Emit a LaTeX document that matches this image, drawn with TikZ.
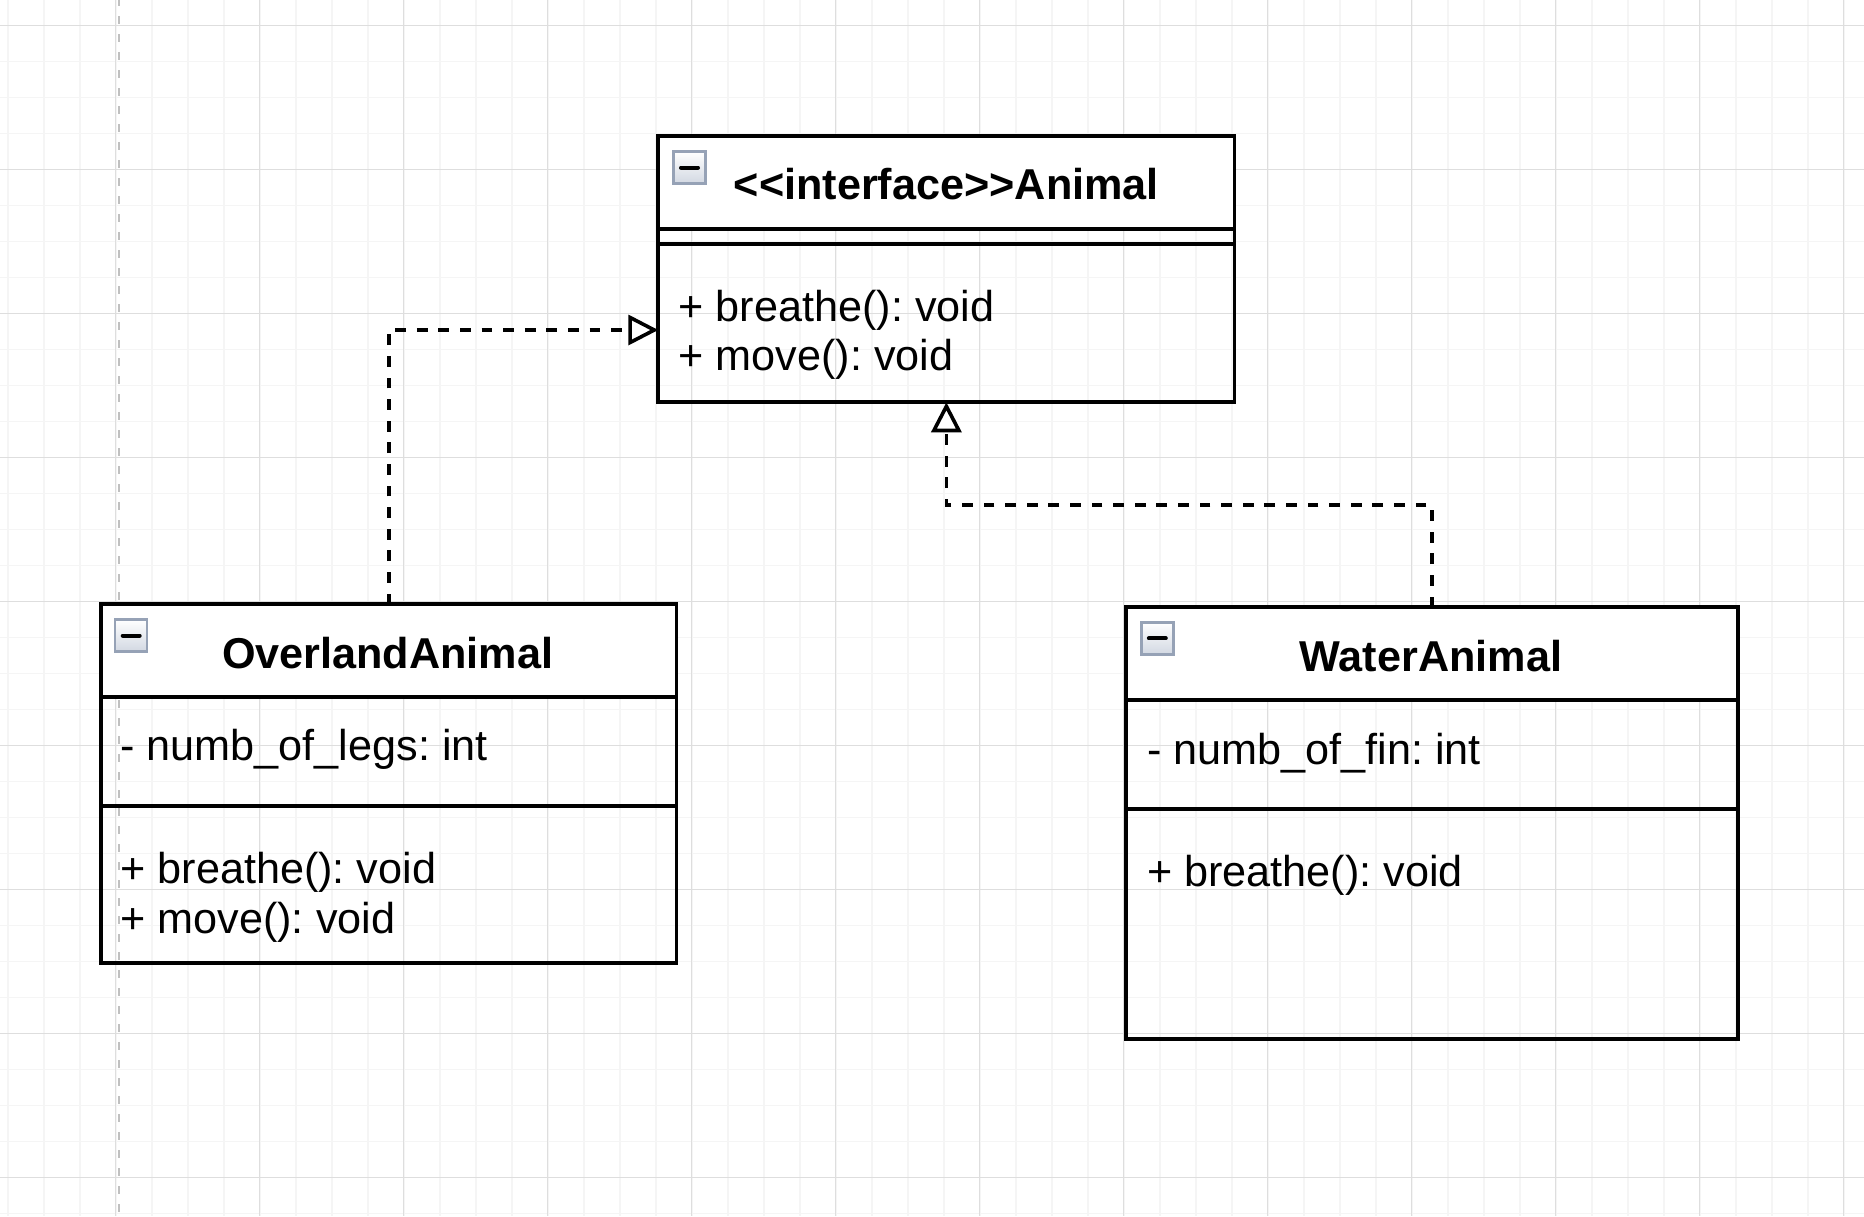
\documentclass[tikz,border=0pt]{standalone}
\usepackage{fontspec}
\newfontfamily\umlfont{Liberation Sans}
\usetikzlibrary{arrows.meta,calc}
\definecolor{gridmajor}{RGB}{222,222,222}
\definecolor{gridminor}{RGB}{245,245,245}
\definecolor{pagebreak}{RGB}{192,192,192}
\definecolor{iconframe}{RGB}{150,162,182}
\definecolor{iconlow}{RGB}{210,216,226}
\frenchspacing
\begin{document}
\begin{tikzpicture}[x=0.5pt,y=-0.5pt,
  every node/.style={font=\umlfont\fontsize{21.6}{25}\selectfont, inner sep=0pt, outer sep=0pt},
  classbox/.style={draw=black, line width=1.9pt, anchor=north west, inner sep=0pt, outer sep=0pt,
    path picture={\fill[white] (path picture bounding box.north west) rectangle ([yshift=-46.6pt]path picture bounding box.north east);}},
  divider/.style={draw=black, line width=1.9pt},
  titletext/.style={font=\umlfont\bfseries\fontsize{21.6}{25}\selectfont, anchor=base},
  membertext/.style={anchor=base west},
  iconbox/.style={minimum size=16pt, draw=iconframe, line width=1.2pt, top color=white, bottom color=iconlow, inner sep=0pt},
  iconbar/.style={draw=black, line width=2pt, line cap=round},
  realize/.style={draw=black, line width=1.8pt, dash pattern=on 5.4pt off 5.4pt,
    -{Triangle[fill=white, length=15pt, width=15pt]}},
  gridminorline/.style={draw=gridminor, line width=0.8pt},
  gridmajorline/.style={draw=gridmajor, line width=0.7pt},
]
\useasboundingbox (0,0) rectangle (1864,1216);
\fill[white] (0,0) rectangle (1864,1216);
% grid
\foreach \k in {-3,...,48} \draw[gridminorline] ({115.7+36*\k},0) -- ({115.7+36*\k},1216);
\foreach \k in {-1,...,33} \draw[gridminorline] (0,{25.3+36*\k}) -- (1864,{25.3+36*\k});
\foreach \k in {0,...,12} \draw[gridmajorline] ({115.7+144*\k},0) -- ({115.7+144*\k},1216);
\foreach \k in {0,...,8} \draw[gridmajorline] (0,{25.3+144*\k}) -- (1864,{25.3+144*\k});
% page break line
\draw[pagebreak, line width=1.2pt, dash pattern=on 4pt off 5pt, dash phase=1pt] (119,0) -- (119,1216);

% classes
\node[classbox, minimum width=288.1pt, minimum height=133.3pt] (an) at (658.3,135.7) {};
\node[classbox, minimum width=287.75pt, minimum height=179.5pt] (ov) at (101,604.3) {};
\node[classbox, minimum width=306pt, minimum height=215.85pt] (wa) at (1126,607.3) {};

% compartments
\draw[divider] ($(an.north west)+(0,93.3)$) -- ($(an.north east)+(0,93.3)$);
\draw[divider] ($(an.north west)+(0,108.3)$) -- ($(an.north east)+(0,108.3)$);
\draw[divider] ($(ov.north west)+(0,93)$) -- ($(ov.north east)+(0,93)$);
\draw[divider] ($(ov.north west)+(0,201.7)$) -- ($(ov.north east)+(0,201.7)$);
\draw[divider] ($(wa.north west)+(0,93)$) -- ($(wa.north east)+(0,93)$);
\draw[divider] ($(wa.north west)+(0,202)$) -- ($(wa.north east)+(0,202)$);

% collapse icons
\node[iconbox] (an-icon) at ($(an.north west)+(31.2,31.8)$) {};
\draw[iconbar] ($(an-icon.center)+(-8.5,0)$) -- ($(an-icon.center)+(8.5,0)$);
\node[iconbox] (ov-icon) at ($(ov.north west)+(30.2,31.2)$) {};
\draw[iconbar] ($(ov-icon.center)+(-8.5,0)$) -- ($(ov-icon.center)+(8.5,0)$);
\node[iconbox] (wa-icon) at ($(wa.north west)+(31.3,31)$) {};
\draw[iconbar] ($(wa-icon.center)+(-8.5,0)$) -- ($(wa-icon.center)+(8.5,0)$);

% texts
\node[titletext] (an-title) at ($(an.north)+(0,63.6)$) {<<interface>>Animal};
\node[membertext] (an-m1) at ($(an.north west)+(20.4,185.3)$) {+ breathe(): void};
\node[membertext] (an-m2) at ($(an.north west)+(20.4,234.3)$) {+ move(): void};

\node[titletext] (ov-title) at ($(ov.north)+(-1,64)$) {OverlandAnimal};
\node[membertext] (ov-a1) at ($(ov.north west)+(19.4,156.4)$) {- numb\_of\_legs: int};
\node[membertext] (ov-m1) at ($(ov.north west)+(19.4,279)$) {+ breathe(): void};
\node[membertext] (ov-m2) at ($(ov.north west)+(19.4,329)$) {+ move(): void};

\node[titletext] (wa-title) at ($(wa.north)+(-1,63.7)$) {WaterAnimal};
\node[membertext] (wa-a1) at ($(wa.north west)+(21,157.4)$) {- numb\_of\_fin: int};
\node[membertext] (wa-m1) at ($(wa.north west)+(21,278.7)$) {+ breathe(): void};

% realizations
\coordinate (a1) at ($(an.north west)+(0,194.3)$);
\draw[realize] (ov.north) |- (a1);
\coordinate (k2) at ($(wa.north)+(0,-102.3)$);
\draw[realize] (wa.north) -- (k2) -| (an.south);
\end{tikzpicture}
\end{document}
